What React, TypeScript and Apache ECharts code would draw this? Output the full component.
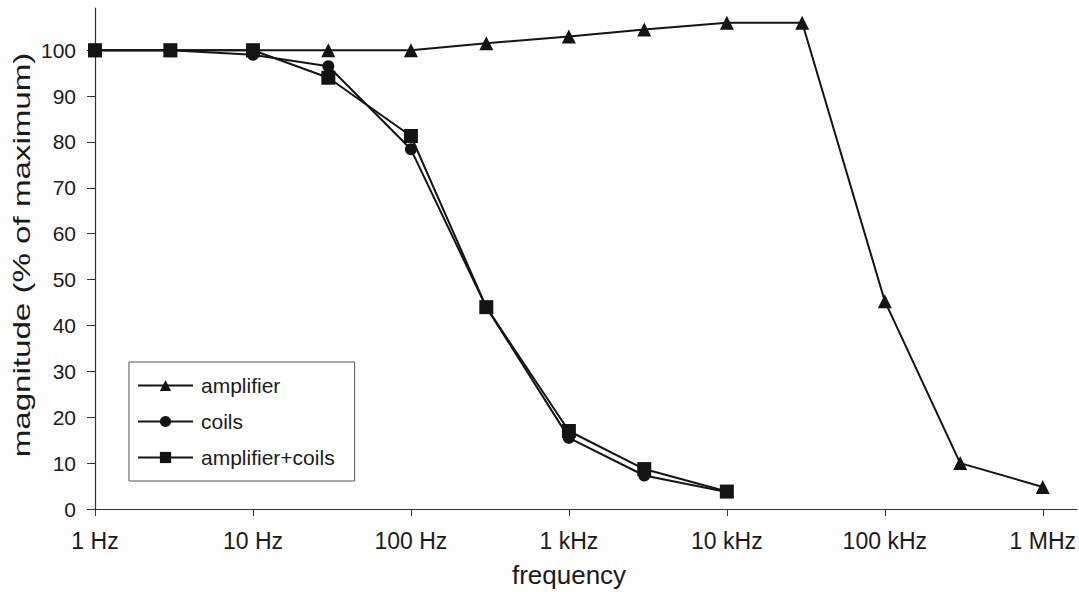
import React, { useEffect, useRef } from "react";
import * as echarts from "echarts";

const frequencies = [1, 3, 10, 30, 100, 300, 1e3, 3e3, 1e4, 3e4, 1e5, 3e5, 1e6];
const amplifier = [100, 100, 100, 100, 100, 101.5, 103, 104.5, 106, 106, 45.3, 10, 4.8];
const coils = [100, 100, 99, 96.5, 78.4, 44, 15.5, 7.3, 3.7];
const amplifierCoils = [100, 100, 100, 94, 81.3, 44, 17, 8.7, 3.8];
const xTickValues = [1, 10, 100, 1e3, 1e4, 1e5, 1e6];
const xTickLabels = ["1 Hz", "10 Hz", "100 Hz", "1 kHz", "10 kHz", "100 kHz", "1 MHz"];
const yTickValues = [0, 10, 20, 30, 40, 50, 60, 70, 80, 90, 100];
const seriesNames = ["amplifier", "coils", "amplifier+coils"];

const FONT = "'Liberation Sans', Arial, sans-serif";
const INK = "#141414";

function pairs(values: number[]) {
  return values.map((v, i) => [frequencies[i], v]);
}

export default function App() {
  const ref = useRef<HTMLDivElement>(null);
  useEffect(() => {
    document.body.style.margin = "0";
    if (!ref.current) return;
    const chart = echarts.init(ref.current, null, { renderer: "svg" });
    const lineStyle = { color: INK, width: 2 };
    const itemStyle = { color: INK, borderWidth: 0 };
    chart.setOption({
      animation: false,
      backgroundColor: "#fdfdfd",
      textStyle: { fontFamily: FONT },
      grid: { left: 95, right: 0, top: 8, bottom: 83, containLabel: false },
      xAxis: {
        type: "log",
        logBase: 10,
        min: 1,
        max: 1639000,
        axisLine: { lineStyle: { color: "#333", width: 1.2 } },
        axisTick: { show: true, length: 7, customValues: xTickValues, lineStyle: { color: "#333" } },
        axisLabel: {
          customValues: xTickValues,
          fontSize: 23,
          color: "#1a1a1a",
          fontFamily: FONT,
          margin: 20,
          formatter: (v: number) => {
            const i = xTickValues.findIndex((t) => Math.abs(t - v) / t < 1e-6);
            return i >= 0 ? xTickLabels[i] : "";
          },
        },
        splitLine: { show: false },
      },
      yAxis: {
        type: "value",
        min: 0,
        max: 109.2,
        axisLine: { show: true, lineStyle: { color: "#333", width: 1.2 } },
        axisTick: { show: true, length: 8, customValues: yTickValues, lineStyle: { color: "#333" } },
        axisLabel: {
          customValues: yTickValues,
          fontSize: 21,
          color: "#1a1a1a",
          fontFamily: FONT,
          margin: 19,
        },
        splitLine: { show: false },
      },
      legend: {
        orient: "vertical",
        left: 129,
        top: 362,
        width: 220,
        padding: [13, 20, 13, 8],
        itemGap: 15,
        itemWidth: 55,
        itemHeight: 14,
        backgroundColor: "#ffffff",
        borderColor: "#555",
        borderWidth: 1,
        textStyle: { fontSize: 21, color: "#1a1a1a", fontFamily: FONT, padding: [0, 0, 0, 3] },
        data: seriesNames,
      },
      series: [
        {
          name: seriesNames[0],
          type: "line",
          data: pairs(amplifier),
          symbol: "triangle",
          symbolSize: 14,
          lineStyle,
          itemStyle,
        },
        {
          name: seriesNames[1],
          type: "line",
          data: pairs(coils),
          symbol: "circle",
          symbolSize: 12,
          lineStyle,
          itemStyle,
        },
        {
          name: seriesNames[2],
          type: "line",
          data: pairs(amplifierCoils),
          symbol: "rect",
          symbolSize: 14,
          lineStyle,
          itemStyle,
        },
      ],
      graphic: [
        {
          type: "text",
          x: 22,
          y: 255,
          rotation: Math.PI / 2,
          scaleX: 1.38,
          style: {
            text: "magnitude (% of maximum)",
            fontSize: 24,
            fontFamily: FONT,
            fill: "#1a1a1a",
            align: "center",
            verticalAlign: "middle",
          },
        },
        {
          type: "text",
          x: 569,
          y: 575,
          style: {
            text: "frequency",
            fontSize: 26,
            fontFamily: FONT,
            fill: "#1a1a1a",
            align: "center",
            verticalAlign: "middle",
          },
        },
      ],
    });
    return () => chart.dispose();
  }, []);
  return <div ref={ref} style={{ width: 1079, height: 592 }} />;
}
